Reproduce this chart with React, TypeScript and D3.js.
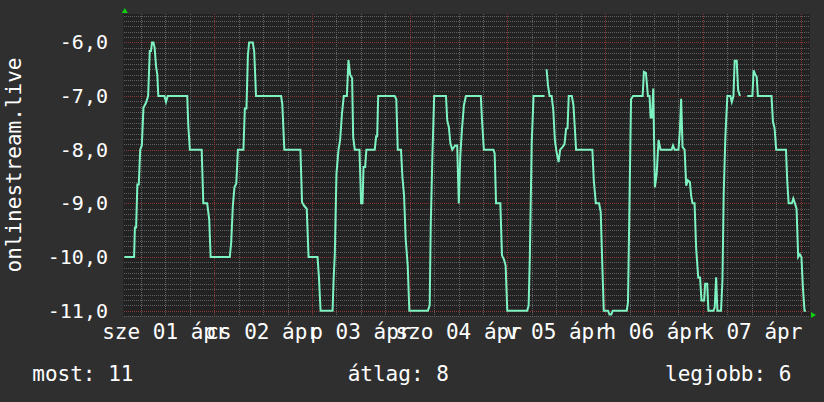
import React, { useEffect, useRef } from "react";
import * as d3 from "d3";

// Hours are counted from 2020-04-01 00:00 UTC.
const START = Date.UTC(2020, 3, 1, 0, 0, 0);
const VIEW_HOURS: [number, number] = [1.65, 170.3];

// Rank of onlinestream.live, stored negated (higher is better). null = no data.
const SERIES: [number, number | null][] = [
  [1.9, -10], [4.3, -10], [4.5, -9.45], [4.8, -9.45], [5.1, -8.65], [5.45, -8.65],
  [5.8, -8.0], [6.2, -7.92], [6.6, -7.22], [7.25, -7.12], [7.75, -7.0], [8.15, -6.16],
  [8.45, -6.16], [8.7, -6.0], [9.05, -6.0], [9.35, -6.1], [9.7, -6.45], [10.0, -6.6],
  [10.25, -7.0], [11.75, -7.0], [12.15, -7.11], [12.55, -7.0], [17.35, -7.0], [17.6, -7.53],
  [18.0, -8.0], [20.9, -8.0], [21.3, -9.0], [22.25, -9.0], [22.75, -9.3], [23.1, -10.0],
  [27.8, -10.0], [28.15, -9.73], [28.55, -9.05], [28.95, -8.7],
  [29.4, -8.63], [29.8, -8.0], [31.15, -8.0], [31.5, -7.23], [31.9, -7.23], [32.25, -6.24],
  [32.55, -6.0], [33.45, -6.0], [33.8, -6.17], [34.25, -7.0], [40.4, -7.0], [40.7, -7.15],
  [41.2, -8.0], [45.15, -8.0], [45.55, -8.98], [46.1, -9.05], [46.7, -9.1], [47.15, -10.0],
  [49.35, -10.0], [49.7, -10.38], [50.1, -11.0], [53.05, -11.0], [53.3, -10.43], [53.6, -9.94],
  [54.0, -8.45], [54.5, -8.0], [54.9, -7.82], [55.35, -7.33], [55.8, -7.0], [56.55, -7.0],
  [56.95, -6.33], [57.35, -6.6],
  [57.85, -6.67], [58.1, -7.76], [58.5, -8.0], [59.65, -8.0], [60.05, -9.0], [60.4, -9.0],
  [60.65, -8.32], [61.05, -8.32], [61.35, -8.0], [63.4, -8.0], [63.75, -7.75], [64.0, -7.75],
  [64.25, -7.0], [68.3, -7.0], [68.7, -7.06], [69.05, -8.0], [69.85, -8.0], [70.2, -8.51],
  [70.6, -8.85], [71.0, -9.66], [71.5, -10.16], [71.9, -11.0], [76.45, -11.0], [76.9, -10.9],
  [77.15, -9.44], [77.55, -8.14], [78.0, -7.0], [80.9, -7.0], [81.2, -7.45], [81.6, -7.58],
  [82.0, -7.89], [82.45, -8.0], [83.15, -7.92], [83.65, -7.92], [84.05, -9.0], [84.4, -8.14],
  [84.8, -7.64], [85.3, -7.17], [85.8, -7.0],
  [89.45, -7.0], [89.75, -7.45], [90.2, -8.0], [92.55, -8.0], [92.85, -8.07], [93.2, -9.0],
  [94.25, -9.0], [94.65, -9.97], [95.15, -10.05], [95.55, -10.16], [95.95, -11.0], [100.85, -11.0],
  [101.2, -10.9], [101.5, -9.97], [101.95, -7.89], [102.4, -7.0], [105.1, -7.0], [105.35, null],
  [105.6, -6.5], [105.95, -6.8], [106.35, -7.0], [106.85, -7.0], [107.25, -7.26], [107.65, -7.82],
  [108.05, -8.04], [108.55, -8.23], [108.95, -8.0], [109.5, -7.95], [110.0, -7.9], [110.4, -7.61],
  [110.75, -7.6], [111.05, -7.0], [111.8, -7.0], [112.2, -7.17], [112.55, -7.6], [112.85, -8.0],
  [116.85, -8.0], [117.2, -8.57], [117.7, -9.0], [118.5, -9.0], [118.9, -9.16], [119.25, -10.05],
  [119.65, -11.0], [120.7, -11.0], [121.05, -11.07], [121.5, -11.07], [121.85, -11.0], [125.3, -11.0],
  [125.6, -10.84], [125.95, -9.07], [126.35, -7.06], [126.85, -7.0], [129.2, -7.0], [129.5, -6.55],
  [130.0, -6.57], [130.5, -7.0], [130.9, -7.0], [131.15, -7.4], [131.5, -7.4], [131.8, -6.86],
  [132.2, -8.7], [132.65, -8.45], [133.1, -7.82], [133.6, -8.0], [136.3, -8.0], [136.65, -7.92],
  [137.05, -8.0], [138.0, -8.0], [138.35, -7.64], [138.65, -7.05], [139.0, -7.95], [139.5, -8.0],
  [139.9, -8.67], [140.3, -8.57], [140.8, -8.6], [141.1, -8.85], [141.45, -9.0], [141.95, -9.0],
  [142.35, -9.85], [142.85, -10.38],
  [143.3, -10.38], [143.65, -10.81], [144.3, -10.81], [144.55, -10.5], [145.05, -10.5], [145.35, -11.0],
  [146.6, -11.0], [146.9, -10.94], [147.25, -10.38], [147.55, -11.0], [148.45, -11.0], [148.8, -10.43],
  [149.1, -8.85], [149.5, -7.79], [150.0, -7.0], [150.75, -7.0], [151.1, -7.11], [151.5, -7.0],
  [151.8, -6.34], [152.3, -6.34], [152.65, -6.89], [153.1, -7.0], [154.0, null],
  [154.9, -7.0], [156.15, -7.0], [156.45, -6.52], [156.85, -6.6], [157.2, -6.64], [157.5, -7.0],
  [160.85, -7.0], [161.2, -7.48], [161.6, -7.6], [162.0, -8.0], [164.4, -8.0], [164.7, -8.57],
  [165.05, -9.0], [165.85, -9.0], [166.2, -8.91], [166.6, -9.0], [167.0, -9.1], [167.4, -10.0],
  [167.8, -9.95], [168.2, -10.0], [168.55, -10.56], [168.95, -11.0], [169.3, -11.0],
];

const Y_DOMAIN: [number, number] = [-11.1, -5.47];
const Y_TICKS = [-11, -10, -9, -8, -7, -6];
const Y_TICK_LABELS = ["-11,0", "-10,0", "-9,0", "-8,0", "-7,0", "-6,0"];

// Day labels, placed at noon of each day.
const DAY_LABELS = ["sze 01 ápr", "cs 02 ápr", "p 03 ápr", "szo 04 ápr", "v 05 ápr", "h 06 ápr", "k 07 ápr"];
const DAY_LABEL_HOURS = [12, 36, 60, 84, 108, 132, 156];

const AXIS_TITLE = "onlinestream.live";
const LEGEND_TEXT = ["most: 11", "átlag: 8", "legjobb: 6"];

const W = 824;
const H = 402;
const PLOT = { left: 123.3, right: 810, top: 14, bottom: 316 };
const LEGEND_X = [32.3, 347.7, 665];

const BG = "#2f2f2f";
const PLOT_BG = "#222222";
const MINOR = "#606060";
const MAJOR = "#8a3434";
const LINE = "#7ef3c2";
const ARROW = "#10d010";
const FONT = "'DejaVu Sans Mono', 'Liberation Mono', monospace";

const toDate = (h: number) => new Date(START + h * 3600 * 1000);

export default function App() {
  const ref = useRef<SVGSVGElement | null>(null);

  useEffect(() => {
    const svg = d3.select(ref.current);
    svg.selectAll("*").remove();

    const x = d3
      .scaleUtc()
      .domain([toDate(VIEW_HOURS[0]), toDate(VIEW_HOURS[1])])
      .range([PLOT.left, PLOT.right]);
    const y = d3.scaleLinear().domain(Y_DOMAIN).range([PLOT.bottom, PLOT.top]);

    // dotted grid patterns: one lit pixel out of every two
    const defs = svg.append("defs");
    const dotPattern = (id: string, w: number, h: number, color: string) => {
      const p = defs
        .append("pattern")
        .attr("id", id)
        .attr("patternUnits", "userSpaceOnUse")
        .attr("width", w)
        .attr("height", h);
      p.append("rect").attr("width", 1).attr("height", 1).attr("fill", color);
    };
    dotPattern("dot-h-minor", 2, 1, MINOR);
    dotPattern("dot-h-major", 2, 1, MAJOR);
    dotPattern("dot-v-minor", 1, 2, MINOR);
    dotPattern("dot-v-major", 1, 2, MAJOR);

    svg.append("rect").attr("width", W).attr("height", H).attr("fill", BG);
    svg
      .append("rect")
      .attr("x", PLOT.left)
      .attr("y", PLOT.top)
      .attr("width", PLOT.right - PLOT.left)
      .attr("height", PLOT.bottom - PLOT.top)
      .attr("fill", PLOT_BG);

    const grid = svg.append("g").attr("shape-rendering", "crispEdges");
    const top = Math.round(PLOT.top);
    const bottom = Math.round(PLOT.bottom);
    const left = Math.round(PLOT.left);
    const right = Math.round(PLOT.right);

    // horizontal grid every 0.1, whole numbers in red
    const gridY = d3
      .range(-111, -54, 1)
      .map((v) => v / 10)
      .filter((v) => v >= Y_DOMAIN[0] && v <= Y_DOMAIN[1]);
    gridY.forEach((v) => {
      const isMajor = Math.abs(v - Math.round(v)) < 1e-6;
      grid
        .append("rect")
        .attr("x", left)
        .attr("y", Math.round(y(v)))
        .attr("width", right - left)
        .attr("height", 1)
        .attr("fill", isMajor ? "url(#dot-h-major)" : "url(#dot-h-minor)");
    });

    // vertical grid every 6 hours, midnight in red
    x.ticks(d3.utcHour.every(6)!).forEach((t) => {
      const isDay = t.getUTCHours() === 0;
      grid
        .append("rect")
        .attr("x", Math.round(x(t)))
        .attr("y", top)
        .attr("width", 1)
        .attr("height", bottom - top)
        .attr("fill", isDay ? "url(#dot-v-major)" : "url(#dot-v-minor)");
    });

    // series
    const line = d3
      .line<[number, number | null]>()
      .defined((d) => d[1] !== null)
      .x((d) => x(toDate(d[0])))
      .y((d) => y(d[1] as number));
    svg
      .append("path")
      .datum(SERIES)
      .attr("d", line)
      .attr("fill", "none")
      .attr("stroke", LINE)
      .attr("stroke-width", 2)
      .attr("stroke-linejoin", "miter");

    // axis arrows
    const ax = PLOT.left + 1.5;
    svg
      .append("path")
      .attr("d", `M${ax - 3},${PLOT.top - 1} L${ax + 3},${PLOT.top - 1} L${ax},${PLOT.top - 6} Z`)
      .attr("fill", ARROW);
    const ay = PLOT.bottom - 1;
    svg
      .append("path")
      .attr("d", `M${PLOT.right + 1},${ay - 3} L${PLOT.right + 1},${ay + 3} L${PLOT.right + 6},${ay} Z`)
      .attr("fill", ARROW);

    // y tick labels
    svg
      .append("g")
      .selectAll("text")
      .data(Y_TICKS)
      .join("text")
      .attr("x", 108)
      .attr("y", (d) => y(d) + 7)
      .attr("text-anchor", "end")
      .attr("fill", "#ffffff")
      .attr("font-family", FONT)
      .attr("font-size", 20)
      .text((_, i) => Y_TICK_LABELS[i]);

    // x day labels
    svg
      .append("g")
      .selectAll("text")
      .data(DAY_LABELS)
      .join("text")
      .attr("x", (_, i) => x(toDate(DAY_LABEL_HOURS[i])))
      .attr("y", 339)
      .attr("text-anchor", "middle")
      .attr("fill", "#ffffff")
      .attr("font-family", FONT)
      .attr("font-size", 21)
      .text((d) => d);

    // vertical axis title
    svg
      .append("text")
      .attr("transform", `translate(21,${(PLOT.top + PLOT.bottom) / 2}) rotate(-90)`)
      .attr("text-anchor", "middle")
      .attr("fill", "#ffffff")
      .attr("font-family", FONT)
      .attr("font-size", 21)
      .text(AXIS_TITLE);

    // legend
    svg
      .append("g")
      .selectAll("text")
      .data(LEGEND_TEXT)
      .join("text")
      .attr("x", (_, i) => LEGEND_X[i])
      .attr("y", 381)
      .attr("fill", "#ffffff")
      .attr("font-family", FONT)
      .attr("font-size", 21)
      .text((d) => d);
  }, []);

  return (
    <svg
      ref={ref}
      width={W}
      height={H}
      style={{ position: "absolute", left: 0, top: 0, display: "block" }}
    />
  );
}
